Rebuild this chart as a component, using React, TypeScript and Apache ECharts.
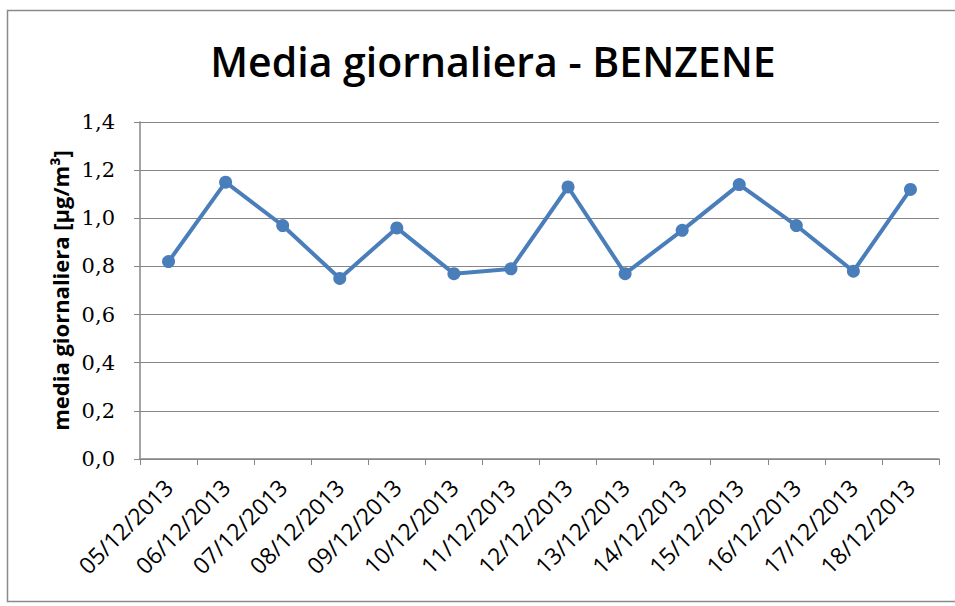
import React, { useEffect, useRef } from "react";
import * as echarts from "echarts";

const categories = [
  "05/12/2013", "06/12/2013", "07/12/2013", "08/12/2013", "09/12/2013",
  "10/12/2013", "11/12/2013", "12/12/2013", "13/12/2013", "14/12/2013",
  "15/12/2013", "16/12/2013", "17/12/2013", "18/12/2013",
];
const benzene = [0.82, 1.15, 0.97, 0.75, 0.96, 0.77, 0.79, 1.13, 0.77, 0.95, 1.14, 0.97, 0.78, 1.12];
const titleText = "Media giornaliera - BENZENE";
const yAxisName = "media giornaliera [µg/m³]";

export default function App() {
  const ref = useRef<HTMLDivElement>(null);
  useEffect(() => {
    if (!ref.current) return;
    const chart = echarts.init(ref.current, null, { renderer: "svg" });
    chart.setOption({
      animation: false,
      backgroundColor: "#ffffff",
      graphic: [
        {
          type: "rect",
          shape: { x: 7.5, y: 10.5, width: 1000, height: 591 },
          style: { fill: "none", stroke: "#8a8a8a", lineWidth: 1.5 },
          silent: true,
          z: -10,
        },
      ],
      title: {
        text: titleText,
        left: 488,
        textAlign: "center",
        top: 35,
        textStyle: {
          fontFamily: "Open Sans",
          fontWeight: 600,
          fontSize: 41,
          color: "#000000",
        },
      },
      grid: { left: 140, right: 16, top: 122, bottom: 147, containLabel: false },
      xAxis: {
        type: "category",
        data: categories,
        boundaryGap: true,
        axisLine: { lineStyle: { color: "#868686", width: 1.5 } },
        axisTick: { show: true, length: 6, interval: 0, lineStyle: { color: "#868686" } },
        axisLabel: {
          interval: 0,
          rotate: 45,
          fontFamily: "Open Sans",
          fontSize: 23,
          color: "#000000",
          margin: 24,
        },
      },
      yAxis: {
        type: "value",
        min: 0,
        max: 1.4,
        interval: 0.2,
        name: yAxisName,
        nameLocation: "middle",
        nameGap: 66,
        nameTextStyle: {
          fontFamily: "Open Sans",
          fontWeight: "bold",
          fontSize: 22,
          color: "#000000",
        },
        axisLine: { show: true, lineStyle: { color: "#868686", width: 1.5 } },
        axisTick: { show: true, length: 6, lineStyle: { color: "#868686" } },
        splitLine: { show: true, lineStyle: { color: "#868686", width: 1.2 } },
        axisLabel: {
          fontFamily: "DejaVu Serif",
          fontSize: 21,
          color: "#000000",
          margin: 25,
          formatter: (v: number) => v.toFixed(1).replace(".", ","),
        },
      },
      series: [
        {
          type: "line",
          data: benzene,
          symbol: "circle",
          symbolSize: 13,
          lineStyle: { color: "#4A7EBB", width: 4 },
          itemStyle: { color: "#4A7EBB" },
        },
      ],
    });
    return () => chart.dispose();
  }, []);
  return (
    <div
      ref={ref}
      style={{ position: "absolute", left: 0, top: 0, width: 955, height: 606 }}
    />
  );
}
